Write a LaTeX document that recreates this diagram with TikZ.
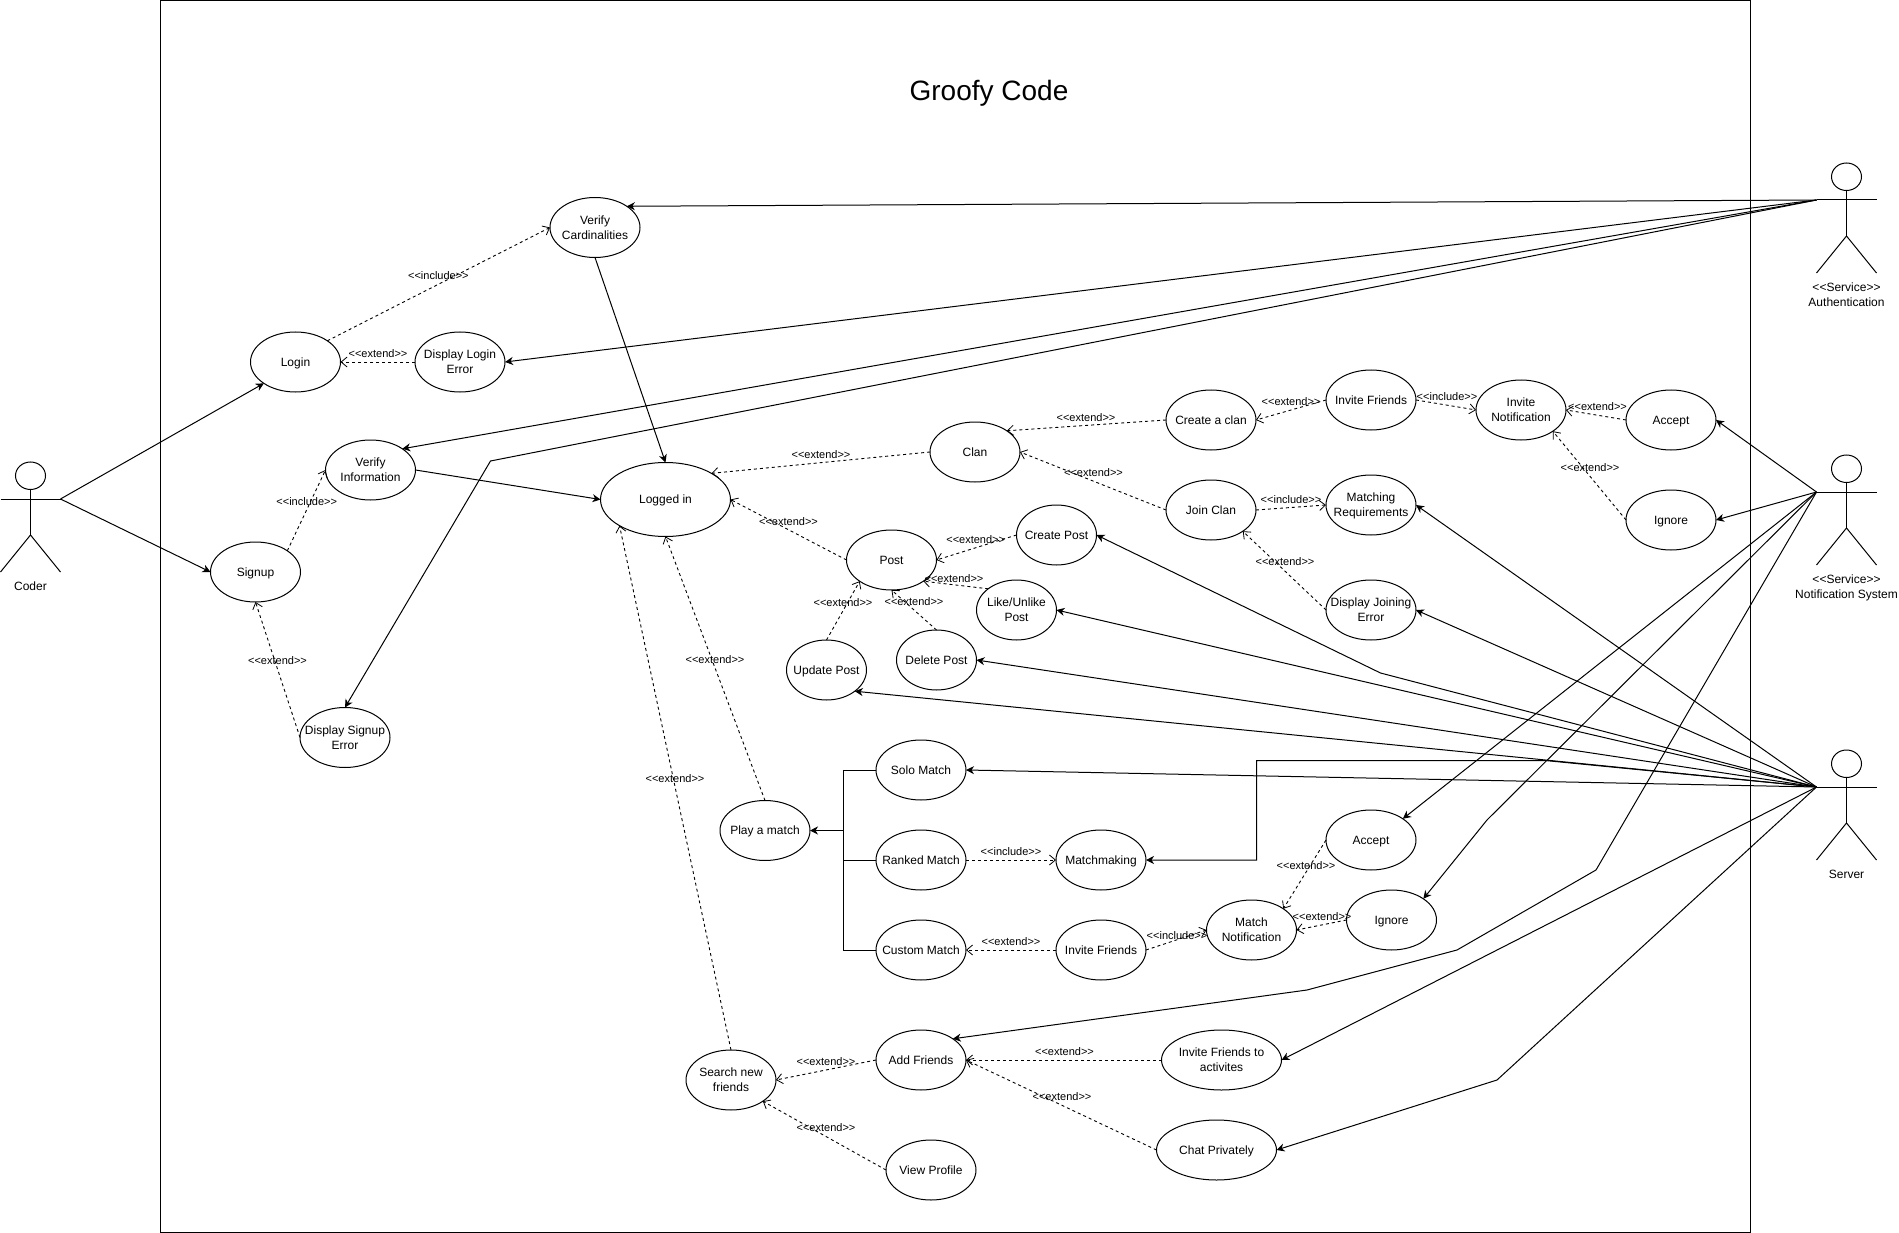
\documentclass[tikz,border=0pt]{standalone}
\usepackage{fontspec}
\setmainfont{Liberation Sans}
\usetikzlibrary{shapes.geometric,arrows.meta}
\newcommand\uctext[1]{\makebox[0pt]{\smash{\raisebox{-4.4pt}{\fontsize{12}{15}\selectfont\setlength{\tabcolsep}{0pt}\begin{tabular}{c}#1\end{tabular}}}}}
\newcommand\usecase[5][90]{\node[uc,minimum width=#1pt] (#2) at (#3,#4) {\uctext{#5}};}
\newcommand\actorfig[4]{%
  \draw[actorline] (#2,{#3+13.75}) ellipse [x radius=15,y radius=13.75];
  \coordinate (#1) at ({#2-30},{#3+37});
  \coordinate (#1-r) at ({#2+30},{#3+37});
  \draw[actorline] (#1) -- (#1-r);
  \draw[actorline] (#2,{#3+27.5}) -- (#2,{#3+73});
  \draw[actorline] ({#2-30},{#3+110}) -- (#2,{#3+73}) -- ({#2+30},{#3+110});
  \node[actortext,anchor=north] (#1-t) at (#2,{#3+118}) {\uctextb{#4}};}
\newcommand\uctextb[1]{\setlength{\tabcolsep}{0pt}\begin{tabular}{c}#1\end{tabular}}
\tikzset{
  uc/.style={ellipse,draw=black,line width=1pt,inner sep=0pt,outer sep=0pt,minimum height=60pt},
  actorline/.style={draw=black,line width=1pt},
  actortext/.style={inner sep=0pt,font=\fontsize{12}{15}\selectfont},
  solidarrow/.style={draw=black,line width=1pt,-{Stealth[length=8pt,width=8pt,inset=2.5pt]}},
  dasharrow/.style={draw=black,line width=.9pt,dash pattern=on 3pt off 3pt,-{Straight Barb[length=6pt,width=10pt,line width=.8pt]}},
  plainline/.style={draw=black,line width=1pt},
  rel/.style={inner sep=0pt,font=\fontsize{11}{13}\selectfont,text=black},
}
\begin{document}
\begin{tikzpicture}[x=1pt,y=-1pt]
\useasboundingbox (0,0) rectangle (1899,1233);
\node[draw=black,line width=1pt,minimum width=1590pt,minimum height=1232pt,inner sep=0pt,anchor=north west] (frame) at (160,0.2) {};
\node[inner sep=0pt,font=\fontsize{28}{32}\selectfont] (title) at (989,93) {Groofy Code};
% actors
\actorfig{coder}{30.5}{462}{Coder}
\actorfig{auth}{1846.5}{163}{<{}<Service>{}>\\Authentication}
\actorfig{notif}{1846.5}{455}{<{}<Service>{}>\\Notification System}
\actorfig{server}{1846.5}{750}{Server}
% use cases
\usecase{vcard}{595}{227.5}{Verify\\Cardinalities}
\usecase{login}{295.5}{362}{Login}
\usecase{dlerr}{460}{362}{Display Login\\Error}
\usecase{vinfo}{370.5}{470}{Verify\\Information}
\usecase{signup}{255.5}{572}{Signup}
\usecase{dserr}{345}{737.5}{Display Signup\\Error}
\node[uc,minimum width=130pt,minimum height=74pt] (logged) at (665.5,499.5) {\uctext{Logged in}};
\usecase{clan}{975}{452}{Clan}
\usecase{cclan}{1211}{420}{Create a clan}
\usecase{ifr}{1371}{400}{Invite Friends}
\usecase{inot}{1521}{410}{Invite\\Notification}
\usecase{acc}{1671}{420}{Accept}
\usecase{ign}{1671}{520}{Ignore}
\usecase{jclan}{1211}{510}{Join Clan}
\usecase{mreq}{1371}{505}{Matching\\Requirements}
\usecase{djerr}{1371}{610}{Display Joining\\Error}
\usecase{post}{891.5}{560}{Post}
\usecase[80]{cpost}{1056.5}{535}{Create Post}
\usecase[80]{lpost}{1016.5}{610}{Like/Unlike\\Post}
\usecase[80]{dpost}{936.5}{660}{Delete Post}
\usecase[80]{upost}{826.5}{670}{Update Post}
\usecase{solo}{921}{770}{Solo Match}
\usecase{ranked}{921}{860}{Ranked Match}
\usecase{custom}{921}{950}{Custom Match}
\usecase{play}{765}{830.5}{Play a match}
\usecase{mmk}{1101}{860}{Matchmaking}
\usecase{ifm}{1101}{950}{Invite Friends}
\usecase{mnot}{1251.5}{930}{Match\\Notification}
\usecase{acc2}{1371}{840}{Accept}
\usecase{ign2}{1391.5}{920}{Ignore}
\usecase[120]{ifa}{1221.5}{1060}{Invite Friends to\\activites}
\usecase[120]{chat}{1216.5}{1150}{Chat Privately}
\usecase{addf}{921}{1060}{Add Friends}
\usecase{search}{731}{1080}{Search new\\friends}
\usecase{view}{931}{1170}{View Profile}
% solid connectors
\draw[solidarrow] (coder-r) -- (login.214);
\draw[solidarrow] (coder-r) -- (signup.west);
\draw[solidarrow] (auth) -- (vcard.north east);
\draw[solidarrow] (auth) -- (dlerr.east);
\draw[solidarrow] (auth) -- (vinfo.north east);
\coordinate (b1) at (490.5,461);
\draw[solidarrow] (auth) -- (b1) -- (dserr.north);
\draw[solidarrow] (notif) -- (acc.east);
\draw[solidarrow] (notif) -- (ign.east);
\draw[solidarrow] (notif) -- (acc2.north east);
\coordinate (b2) at (1487,820);
\draw[solidarrow] (notif) -- (b2) -- (ign2.north east);
\coordinate (b3) at (1596,870);
\coordinate (b4) at (1457,950);
\coordinate (b5) at (1307,990);
\draw[solidarrow] (notif) -- (b3) -- (b4) -- (b5) -- (addf.north east);
\draw[solidarrow] (server) -- (mreq.east);
\draw[solidarrow] (server) -- (djerr.east);
\coordinate (b6) at (1380.5,673);
\draw[solidarrow] (server) -- (b6) -- (cpost.east);
\draw[solidarrow] (server) -- (lpost.east);
\draw[solidarrow] (server) -- (dpost.east);
\draw[solidarrow] (server) -- (upost.south east);
\draw[solidarrow] (server) -- (solo.east);
\coordinate (b7) at (1545,760.5);
\coordinate (b8) at (1256.5,760.5);
\coordinate (b9) at (1256.5,860);
\draw[solidarrow] (server) -- (b7) -- (b8) -- (b9) -- (mmk.east);
\draw[solidarrow] (server) -- (ifa.east);
\coordinate (b10) at (1497,1080);
\draw[solidarrow] (server) -- (b10) -- (chat.east);
\draw[solidarrow] (vcard.south) -- (logged.north);
\draw[solidarrow] (vinfo.east) -- (logged.west);
\coordinate (j1) at (843,770);
\coordinate (j2) at (843,860);
\coordinate (j3) at (843,950);
\coordinate (j4) at (843,830.5);
\draw[plainline] (solo.west) -- (j1) -- (j3) -- (custom.west);
\draw[plainline] (ranked.west) -- (j2);
\draw[solidarrow] (j4) -- (play.east);
% dashed connectors
\draw[dasharrow] (login.north east) -- (vcard.west);
\draw[dasharrow] (dlerr.west) -- (login.east);
\draw[dasharrow] (signup.north east) -- (vinfo.west);
\draw[dasharrow] (dserr.west) -- (signup.south);
\draw[dasharrow] (clan.west) -- (logged.north east);
\draw[dasharrow] (post.west) -- (logged.east);
\draw[dasharrow] (cclan.west) -- (clan.north east);
\draw[dasharrow] (jclan.west) -- (clan.east);
\draw[dasharrow] (ifr.west) -- (cclan.east);
\draw[dasharrow] (ifr.east) -- (inot.west);
\draw[dasharrow] (acc.west) -- (inot.east);
\draw[dasharrow] (ign.west) -- (inot.south east);
\draw[dasharrow] (jclan.east) -- (mreq.west);
\draw[dasharrow] (djerr.west) -- (jclan.south east);
\draw[dasharrow] (cpost.west) -- (post.east);
\draw[dasharrow] (lpost.north west) -- (post.south east);
\draw[dasharrow] (dpost.north) -- (post.south);
\draw[dasharrow] (upost.north) -- (post.south west);
\draw[dasharrow] (play.north) -- (logged.south);
\draw[dasharrow] (search.north) -- (logged.south west);
\draw[dasharrow] (ranked.east) -- (mmk.west);
\draw[dasharrow] (ifm.west) -- (custom.east);
\draw[dasharrow] (ifm.east) -- (mnot.west);
\draw[dasharrow] (acc2.west) -- (mnot.north east);
\draw[dasharrow] (ign2.west) -- (mnot.east);
\draw[dasharrow] (addf.west) -- (search.east);
\draw[dasharrow] (view.west) -- (search.south east);
\draw[dasharrow] (ifa.west) -- (addf.east);
\draw[dasharrow] (chat.west) -- (addf.east);
% relation labels
\newcommand\extlab[3]{\node[rel] (#1) at (#2,{#3+1}) {<{}<extend>{}>};}
\newcommand\inclab[3]{\node[rel] (#1) at (#2,{#3+1}) {<{}<include>{}>};}
\inclab{l1}{438.4}{275}
\extlab{l2}{378}{353}
\inclab{l3}{306.7}{501}
\extlab{l4}{277.5}{659.5}
\extlab{l5}{821}{454}
\extlab{l6}{788.5}{521}
\extlab{l7}{1086}{416.5}
\extlab{l8}{1093.5}{472}
\extlab{l9}{1291}{401}
\inclab{l10}{1447}{396}
\extlab{l11}{1597.5}{406}
\extlab{l12}{1590}{467}
\inclab{l13}{1291}{499}
\extlab{l14}{1285}{561}
\extlab{l15}{975.7}{539}
\extlab{l16}{954}{578}
\extlab{l17}{914}{601}
\extlab{l18}{843}{602}
\extlab{l19}{715}{658.5}
\extlab{l20}{675}{778}
\inclab{l21}{1011}{851}
\extlab{l22}{1011}{941}
\inclab{l23}{1177}{935}
\extlab{l24}{1306}{865}
\extlab{l25}{1322}{916}
\extlab{l26}{826}{1061}
\extlab{l27}{826}{1126.5}
\extlab{l28}{1064.5}{1051}
\extlab{l29}{1062}{1096}
\end{tikzpicture}
\end{document}
